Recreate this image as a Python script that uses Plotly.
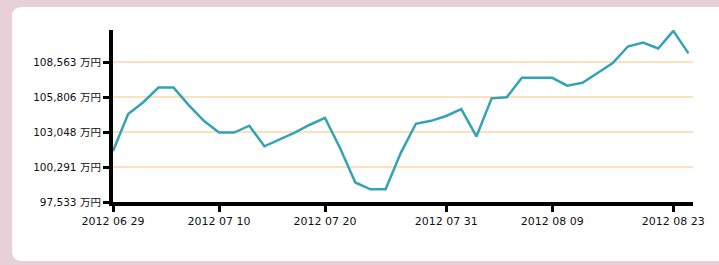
import plotly.graph_objects as go

# ---- data ----
values = [101544, 104475, 105400, 106557, 106557, 105169, 103935, 103009, 103009, 103549,
          101929, 102469, 103009, 103626, 104166, 101775, 99076, 98536, 98536, 101390,
          103703, 103935, 104320, 104860, 102701, 105709, 105786, 107329, 107329, 107329,
          106711, 106943, 107714, 108485, 109797, 110105, 109642, 111031, 109257]
x_tick_index = [0, 7, 14, 22, 29, 37]
x_tick_labels = ["2012 06 29", "2012 07 10", "2012 07 20", "2012 07 31", "2012 08 09", "2012 08 23"]
y_tick_values = [97533, 100291, 103048, 105806, 108563]
y_tick_labels = [f"{v:,} 万円" for v in y_tick_values]

W, H = 719, 265
ML, MR, MT, MB = 113, 26, 30, 63
PW, PH = W - ML - MR, H - MT - MB

def px2paper_x(px):
    return (px - ML) / PW

def px2paper_y(py):
    return (H - MB - py) / PH

fig = go.Figure()
fig.add_trace(go.Scatter(
    x=list(range(len(values))), y=values, mode="lines",
    line=dict(color="#33a3b5", width=2.5), hoverinfo="skip", showlegend=False))

# white rounded card on pink background
x0, x1 = px2paper_x(12), px2paper_x(740)
y0, y1 = px2paper_y(7), px2paper_y(261)
rx = 10 / PW
ry = 10 / PH
path = (f"M {x0+rx},{y0} L {x1},{y0} L {x1},{y1} L {x0+rx},{y1} "
        f"Q {x0},{y1} {x0},{y1+ry} L {x0},{y0-ry} Q {x0},{y0} {x0+rx},{y0} Z")
fig.add_shape(type="path", path=path, xref="paper", yref="paper",
              fillcolor="white", line=dict(width=0), layer="below")

font_family = "DejaVu Sans, Noto Sans CJK JP, sans-serif"
fig.update_layout(
    width=W, height=H,
    margin=dict(l=ML, r=MR, t=MT, b=MB, pad=0),
    paper_bgcolor="#e7d0d8",
    plot_bgcolor="rgba(0,0,0,0)",
    font=dict(family=font_family, size=10, color="#111111"),
    xaxis=dict(
        range=[0, 38.3], tickmode="array", tickvals=x_tick_index, ticktext=x_tick_labels,
        showgrid=False, zeroline=False, showline=True, linecolor="black", linewidth=4,
        ticks="outside", ticklen=6, tickwidth=3, tickcolor="black",
        tickfont=dict(size=11, color="#111111"), fixedrange=True),
    yaxis=dict(
        range=[97533, 111100], tickmode="array", tickvals=y_tick_values, ticktext=y_tick_labels,
        showgrid=True, gridcolor="#fbe1bd", gridwidth=2, zeroline=False,
        showline=True, linecolor="black", linewidth=4,
        ticks="outside", ticklen=6, tickwidth=3, tickcolor="black",
        tickfont=dict(size=10.5, color="#111111"), fixedrange=True),
)

fig.write_html("out.html", config={"displayModeBar": False},
               post_script="document.body.style.margin='0';document.body.style.overflow='hidden';")
